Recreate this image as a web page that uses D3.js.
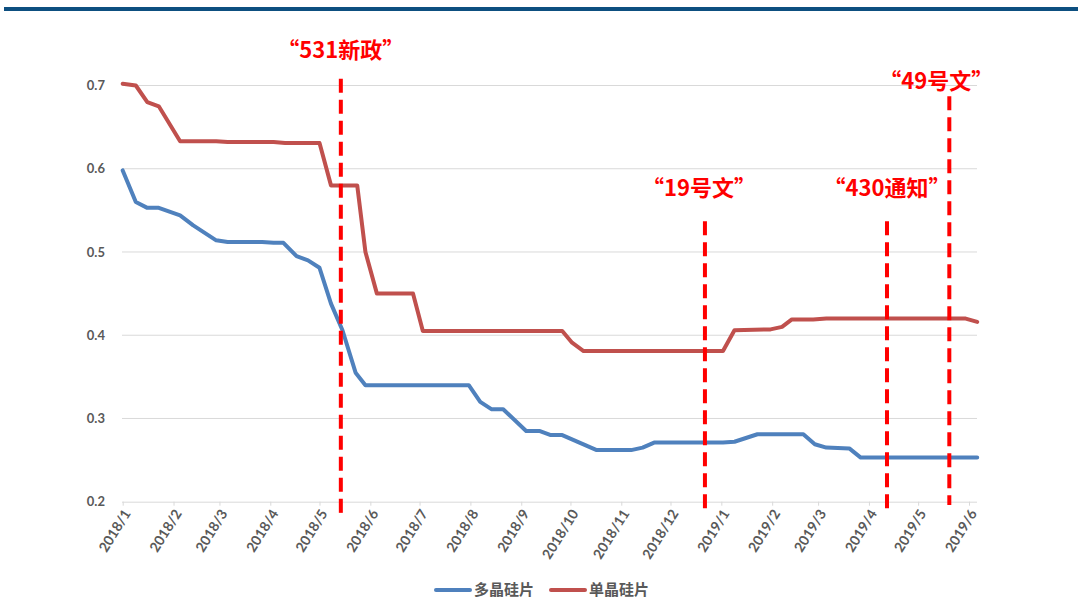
<!DOCTYPE html>
<html>
<head>
<meta charset="utf-8">
<script src="https://cdn.jsdelivr.net/npm/d3@7"></script>
<style>
  html, body { margin: 0; padding: 0; background: #ffffff; }
  svg { display: block; }
</style>
</head>
<body>
<svg id="chart" width="1078" height="601"></svg>
<script>
// Wafer price series (USD per piece), vertices of the weekly quotes
const polyDates = ["2018-01-01","2018-01-09","2018-01-16","2018-01-23","2018-02-05","2018-02-13","2018-02-27","2018-03-06","2018-03-27","2018-04-03","2018-04-09","2018-04-17","2018-04-24","2018-05-01","2018-05-08","2018-05-15","2018-05-23","2018-05-29","2018-07-31","2018-08-07","2018-08-14","2018-08-21","2018-09-04","2018-09-12","2018-09-19","2018-09-26","2018-10-17","2018-11-07","2018-11-14","2018-11-21","2019-01-02","2019-01-09","2019-01-23","2019-02-20","2019-02-27","2019-03-06","2019-03-20","2019-03-27","2019-06-06"];
const polyValues = [0.598,0.560,0.553,0.553,0.544,0.532,0.514,0.512,0.512,0.511,0.511,0.495,0.490,0.481,0.438,0.406,0.355,0.340,0.340,0.320,0.311,0.311,0.285,0.285,0.280,0.280,0.262,0.262,0.265,0.271,0.271,0.272,0.281,0.281,0.269,0.265,0.264,0.253,0.253];

const monoDates = ["2018-01-01","2018-01-09","2018-01-16","2018-01-23","2018-02-05","2018-02-27","2018-03-06","2018-04-03","2018-04-10","2018-05-01","2018-05-08","2018-05-24","2018-05-29","2018-06-05","2018-06-27","2018-07-03","2018-09-26","2018-10-02","2018-10-09","2019-01-02","2019-01-09","2019-01-31","2019-02-07","2019-02-13","2019-02-26","2019-03-06","2019-05-30","2019-06-06"];
const monoValues = [0.702,0.700,0.680,0.675,0.633,0.633,0.632,0.632,0.631,0.631,0.580,0.580,0.500,0.450,0.450,0.405,0.405,0.391,0.381,0.381,0.406,0.407,0.410,0.419,0.419,0.420,0.420,0.416];

const seriesNames = ["多晶硅片", "单晶硅片"];
const seriesColors = ["#4f81bd", "#c0504d"];

// Policy events marked with dashed verticals
const eventLabels = ["“531新政”", "“19号文”", "“430通知”", "“49号文”"];
const eventDates = ["2018-05-14", "2018-12-22", "2019-04-12", "2019-05-20"];
const eventTops = [0.708, 0.537, 0.537, 0.687];

const yTicks = [0.2, 0.3, 0.4, 0.5, 0.6, 0.7];

const parse = d3.utcParse("%Y-%m-%d");
const fmtMonth = d3.utcFormat("%Y/%-m");

const svg = d3.select("#chart");
const W = 1078, H = 601;

// header rule
svg.append("rect").attr("x", 4).attr("y", 7).attr("width", W - 4).attr("height", 4).attr("fill", "#0d4f80");

const x = d3.scaleUtc()
  .domain([parse("2018-01-01"), parse("2019-06-06")])
  .range([122.7, 977.2]);
const y = d3.scaleLinear().domain([0.2, 0.7]).range([501.7, 85.5]);

const plotLeft = 122, plotRight = 977;

// horizontal gridlines
svg.append("g").selectAll("line").data(yTicks.filter(v => v > 0.2)).join("line")
  .attr("x1", plotLeft).attr("x2", plotRight)
  .attr("y1", d => y(d)).attr("y2", d => y(d))
  .attr("stroke", "#d9d9d9").attr("stroke-width", 1);

// y axis labels
const yAxis = d3.axisLeft(y).tickValues(yTicks).tickFormat(d3.format(".1f")).tickSize(0).tickPadding(0);
const gy = svg.append("g").attr("transform", "translate(105,0)").call(yAxis);
gy.select(".domain").remove();
gy.selectAll("text")
  .attr("font-family", "Lato, 'Open Sans', sans-serif")
  .attr("font-weight", "bold").attr("font-size", 13).attr("fill", "#595959");

// x axis
const months = d3.utcMonth.range(parse("2018-01-01"), parse("2019-06-02"));
const xAxis = d3.axisBottom(x).tickValues(months).tickFormat(fmtMonth).tickSize(4).tickSizeOuter(0);
const gx = svg.append("g").attr("transform", `translate(0,${y(0.2)})`).call(xAxis);
gx.select(".domain").attr("stroke", "#d9d9d9").attr("d", `M${plotLeft},0.5H${plotRight}`);
gx.selectAll(".tick line").attr("stroke", "#d9d9d9");
gx.selectAll(".tick text")
  .attr("font-family", "Lato, 'Open Sans', sans-serif")
  .attr("font-weight", "bold").attr("font-size", 14).attr("fill", "#595959")
  .attr("text-anchor", "end")
  .attr("transform", "translate(4,9) rotate(-58)")
  .attr("dy", "0.35em").attr("y", 0).attr("x", 0);

// series lines
const line = d3.line().x(d => x(d[0])).y(d => y(d[1])).curve(d3.curveLinear);
const series = [
  polyDates.map((d, i) => [parse(d), polyValues[i]]),
  monoDates.map((d, i) => [parse(d), monoValues[i]])
];
svg.append("g").selectAll("path").data(series).join("path")
  .attr("d", line)
  .attr("fill", "none")
  .attr("stroke", (d, i) => seriesColors[i])
  .attr("stroke-width", 4)
  .attr("stroke-linejoin", "round")
  .attr("stroke-linecap", "round");

// event markers
const eventBottoms = [0.186, 0.188, 0.188, 0.196];
const labelShift = [[0, -27], [-6, -31], [0, -31], [-13, -13]];
const ev = svg.append("g");
eventDates.forEach((d, i) => {
  const ex = x(parse(d));
  ev.append("line")
    .attr("x1", ex).attr("x2", ex)
    .attr("y1", y(eventTops[i])).attr("y2", y(eventBottoms[i]))
    .attr("stroke", "#ff0000").attr("stroke-width", 4)
    .attr("stroke-dasharray", "14,7");
  ev.append("text")
    .attr("x", ex + labelShift[i][0])
    .attr("y", y(eventTops[i]) + labelShift[i][1])
    .attr("text-anchor", "middle")
    .attr("dominant-baseline", "middle")
    .attr("font-family", "'Noto Sans CJK SC', sans-serif")
    .attr("font-weight", "bold").attr("font-size", 22)
    .attr("fill", "#ff0000")
    .text(eventLabels[i]);
});

// legend
const legend = svg.append("g");
const legendX = [436, 551];
seriesNames.forEach((name, i) => {
  legend.append("line")
    .attr("x1", legendX[i]).attr("x2", legendX[i] + 34)
    .attr("y1", 590).attr("y2", 590)
    .attr("stroke", seriesColors[i]).attr("stroke-width", 4).attr("stroke-linecap", "round");
  legend.append("text")
    .attr("x", legendX[i] + 38).attr("y", 591)
    .attr("dominant-baseline", "middle")
    .attr("font-family", "'Noto Sans CJK SC', sans-serif")
    .attr("font-weight", "bold").attr("font-size", 15).attr("fill", "#595959")
    .text(name);
});
</script>
</body>
</html>
